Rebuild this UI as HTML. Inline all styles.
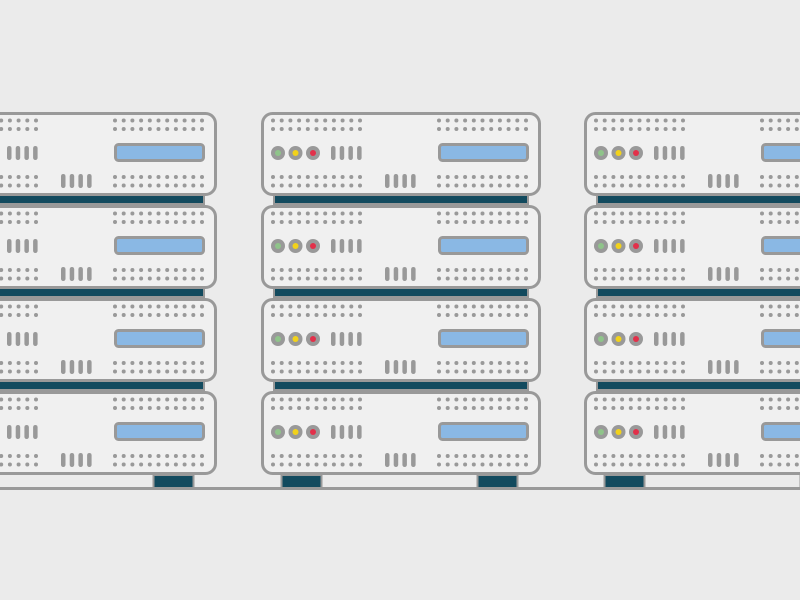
<!DOCTYPE html>
<html><head><style>html,body{margin:0;padding:0;background:#ebebeb;overflow:hidden}</style></head>
<body>
<svg width="800" height="600" xmlns="http://www.w3.org/2000/svg" style="display:block">
<defs>
<g id="dots">
<circle cx="12" cy="0" r="2"/><circle cx="20.7" cy="0" r="2"/><circle cx="29.4" cy="0" r="2"/><circle cx="38.1" cy="0" r="2"/><circle cx="46.8" cy="0" r="2"/><circle cx="55.5" cy="0" r="2"/><circle cx="64.2" cy="0" r="2"/><circle cx="72.9" cy="0" r="2"/><circle cx="81.6" cy="0" r="2"/><circle cx="90.3" cy="0" r="2"/><circle cx="99" cy="0" r="2"/>
</g>
<g id="bars" fill="#999">
<rect x="0" y="0" width="4.5" height="14" rx="2.2"/><rect x="8.7" y="0" width="4.5" height="14" rx="2.2"/><rect x="17.4" y="0" width="4.5" height="14" rx="2.2"/><rect x="26.1" y="0" width="4.5" height="14" rx="2.2"/>
</g>
<g id="u">
<rect x="1.5" y="1.5" width="277" height="81" rx="10" fill="#f0f0f0" stroke="#999" stroke-width="3"/>
<g fill="#999">
<use href="#dots" y="8.5"/><use href="#dots" y="17"/><use href="#dots" y="65"/><use href="#dots" y="73.5"/>
<use href="#dots" x="166" y="8.5"/><use href="#dots" x="166" y="17"/><use href="#dots" x="166" y="65"/><use href="#dots" x="166" y="73.5"/>
</g>
<circle cx="17" cy="41" r="7" fill="#999"/><circle cx="17" cy="41" r="3" fill="#8fc48a"/>
<circle cx="34.5" cy="41" r="7" fill="#999"/><circle cx="34.5" cy="41" r="3" fill="#f2d21a"/>
<circle cx="52" cy="41" r="7" fill="#999"/><circle cx="52" cy="41" r="3" fill="#e2304a"/>
<use href="#bars" x="70" y="34"/>
<use href="#bars" x="124" y="62"/>
<rect x="178.5" y="32.5" width="88" height="16" rx="3" fill="#8ab8e4" stroke="#999" stroke-width="3"/>
</g>
<g id="stack">
<rect x="13" y="82" width="254" height="10" fill="#124a5e" stroke="#999" stroke-width="2"/>
<rect x="13" y="175" width="254" height="10" fill="#124a5e" stroke="#999" stroke-width="2"/>
<rect x="13" y="268" width="254" height="10" fill="#124a5e" stroke="#999" stroke-width="2"/>
<use href="#u" y="0"/><use href="#u" y="93"/><use href="#u" y="186"/><use href="#u" y="279"/>
<rect x="20.5" y="363" width="40" height="13" fill="#124a5e" stroke="#999" stroke-width="2"/>
<rect x="216.5" y="363" width="40" height="13" fill="#124a5e" stroke="#999" stroke-width="2"/>
</g>
</defs>
<rect x="0" y="487" width="800" height="3" fill="#999"/>
<use href="#stack" x="-63" y="112"/>
<use href="#stack" x="261" y="112"/>
<use href="#stack" x="584" y="112"/>
</svg>
</body></html>
